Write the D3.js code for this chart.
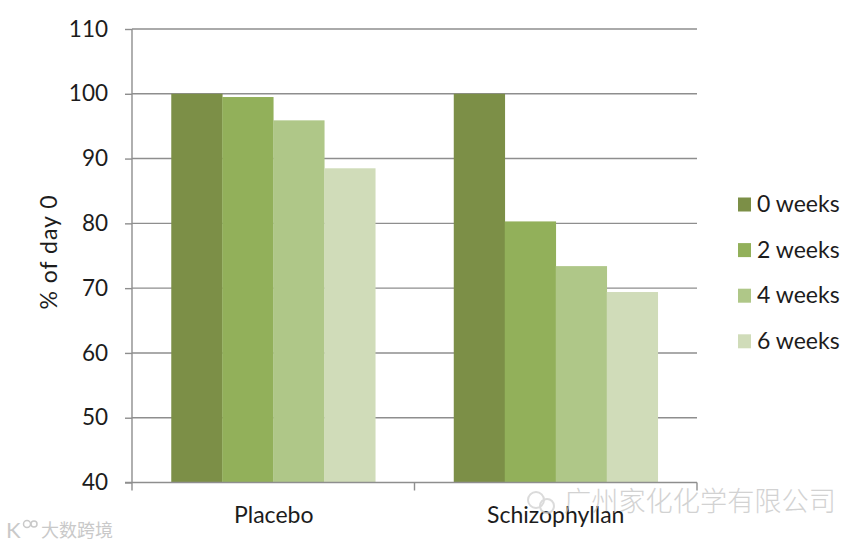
<!DOCTYPE html>
<html><head><meta charset="utf-8">
<script src="https://cdn.jsdelivr.net/npm/d3@7"></script>
<style>html,body{margin:0;background:#fff}svg{display:block}text{font-family:Lato,"Noto Sans",sans-serif;fill:#1c1c1c}</style>
</head><body><svg id="c" width="867" height="547"></svg>
<script>
const categories = ["Placebo", "Schizophyllan"];
const seriesNames = ["0 weeks", "2 weeks", "4 weeks", "6 weeks"];
const placeboValues = [100, 99.5, 95.9, 88.5];
const schizophyllanValues = [100, 80.3, 73.4, 69.4];
const seriesColors = ["#7c8f47", "#92b05a", "#afc788", "#d0dcb9"];
const yTicks = [40, 50, 60, 70, 80, 90, 100, 110];
const allValues = [placeboValues, schizophyllanValues];

const svg = d3.select("#c");
const y = d3.scaleLinear().domain([40, 110]).range([482.5, 29]);
const x0 = d3.scaleBand().domain(categories).range([132, 697]);
const x1 = d3.scaleBand().domain(seriesNames).range([0, x0.bandwidth()]).paddingOuter(0.77);
const gray = "#8e8e8e";

// gridlines
svg.append("g").selectAll("line").data(yTicks.filter(d => d > 40)).join("line")
  .attr("x1", 132).attr("x2", 697).attr("y1", d => y(d)).attr("y2", d => y(d))
  .attr("stroke", gray).attr("stroke-width", 1.4);

// bars
categories.forEach((c, i) => {
  svg.append("g").selectAll("rect").data(allValues[i]).join("rect")
    .attr("x", (d, j) => x0(c) + x1(seriesNames[j]))
    .attr("width", x1.bandwidth() + 0.3)
    .attr("y", d => y(d))
    .attr("height", d => y(40) - y(d))
    .attr("fill", (d, j) => seriesColors[j]);
});

// y axis
const ay = svg.append("g").attr("transform", "translate(132,0)")
  .call(d3.axisLeft(y).tickValues(yTicks).tickSize(7).tickPadding(17));
ay.selectAll("text").attr("font-size", 22.5).style("font-family", "Lato");
ay.select(".domain").attr("stroke", gray).attr("stroke-width", 1.4).attr("d", "M0,29V482.5");
ay.selectAll("line").attr("stroke", gray).attr("stroke-width", 1.4);

// x axis
const ax = svg.append("g").attr("transform", "translate(0,482.5)");
ax.append("line").attr("x1", 125).attr("x2", 697).attr("stroke", gray).attr("stroke-width", 1.6);
ax.selectAll(".t").data([132, x0(categories[1]), 697]).join("line").attr("class", "t")
  .attr("x1", d => d).attr("x2", d => d).attr("y1", 0).attr("y2", 8)
  .attr("stroke", gray).attr("stroke-width", 1.4);
svg.append("g").selectAll("text").data(categories).join("text")
  .attr("x", d => x0(d) + x0.bandwidth() / 2 + (d === "Placebo" ? 0.5 : 0))
  .attr("y", 522.5).attr("text-anchor", "middle").attr("font-size", 23).text(d => d);

// y title
svg.append("text").attr("transform", "translate(57,252) rotate(-90)")
  .attr("text-anchor", "middle").attr("font-size", 23).attr("letter-spacing", 1).text("% of day 0");

// legend
const leg = svg.append("g").selectAll("g").data(seriesNames).join("g")
  .attr("transform", (d, i) => `translate(738,${204.5 + i * 45.6})`);
leg.append("rect").attr("y", -7).attr("width", 13).attr("height", 14).attr("fill", (d, i) => seriesColors[i]);
leg.append("text").attr("x", 19).attr("y", 7.5).attr("font-size", 23).text(d => d);

// watermarks
const wm = svg.append("g").attr("opacity", 0.75);
wm.append("text").attr("x", 564).attr("y", 511).attr("font-size", 27.2)
  .style("font-family", '"Noto Sans CJK SC"').style("fill", "#c4c4c4").style("font-weight", 300).text("广州家化化学有限公司");
wm.append("circle").attr("cx", 536).attr("cy", 500).attr("r", 8).attr("fill", "none").attr("stroke", "#cfcfcf").attr("stroke-width", 2);
wm.append("circle").attr("cx", 547).attr("cy", 506).attr("r", 7).attr("fill", "none").attr("stroke", "#cfcfcf").attr("stroke-width", 2);
svg.append("text").attr("x", 41).attr("y", 537).attr("font-size", 18)
  .style("font-family", '"Noto Sans CJK SC"').style("fill", "#c9c9c9").text("大数跨境");
svg.append("text").attr("x", 6).attr("y", 538).attr("font-size", 22).style("fill", "#c9c9c9").text("K");
svg.append("circle").attr("cx", 27).attr("cy", 524).attr("r", 3.5).attr("fill", "none").attr("stroke", "#c9c9c9").attr("stroke-width", 1.5);
svg.append("circle").attr("cx", 34).attr("cy", 524).attr("r", 3).attr("fill", "none").attr("stroke", "#c9c9c9").attr("stroke-width", 1.5);
</script></body></html>
